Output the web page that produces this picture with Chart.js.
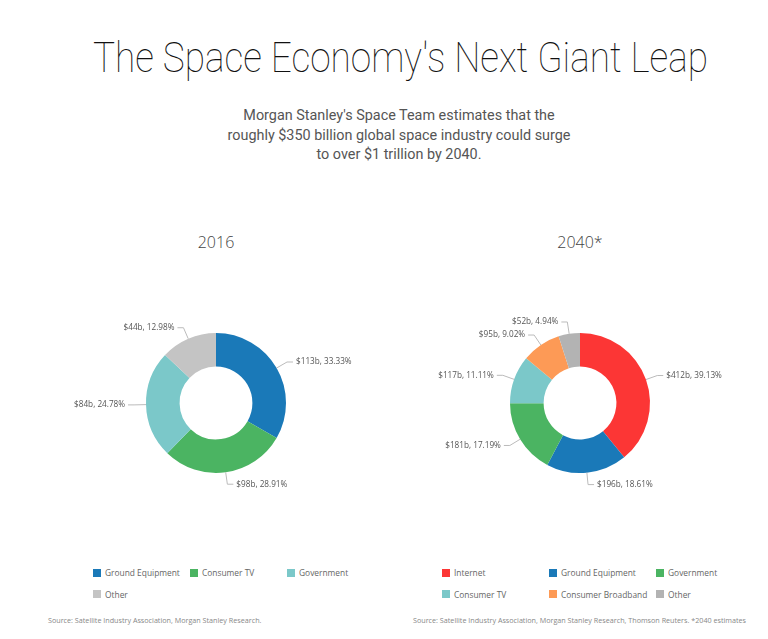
<!DOCTYPE html>
<html lang="en">
<head>
    <meta charset="UTF-8">
    <title>The Space Economy's Next Giant Leap</title>
    <script src="https://cdn.jsdelivr.net/npm/chart.js@4.4.1/dist/chart.umd.min.js"></script>
    <style>
        * { margin: 0; padding: 0; box-sizing: border-box; }

        body {
            width: 768px;
            height: 639px;
            background: #fff;
            position: relative;
            overflow: hidden;
            font-family: 'Open Sans', sans-serif;
        }

        h1 {
            position: absolute;
            left: 0;
            width: 801px;
            top: 32px;
            text-align: center;
            font-family: Roboto, sans-serif;
            font-weight: 100;
            font-size: 43px;
            line-height: 50px;
            color: #111;
            transform: scaleX(0.86);
        }

        .subtitle {
            position: absolute;
            left: 0;
            width: 798px;
            top: 106px;
            text-align: center;
            font-family: Roboto, sans-serif;
            font-size: 14.4px;
            line-height: 19.5px;
            color: #555;
        }

        .chart-title {
            position: absolute;
            width: 200px;
            top: 231px;
            text-align: center;
            font-size: 16px;
            line-height: 22px;
            font-weight: 300;
            color: #444;
        }

        .chart-box {
            position: absolute;
            top: 273px;
            height: 260px;
        }

        .legend {
            position: absolute;
            top: 568.5px;
            display: grid;
            row-gap: 13.5px;
        }

        .legend-item {
            display: flex;
            align-items: center;
            height: 8px;
            font-size: 8.4px;
            color: #666;
            white-space: nowrap;
        }

        .legend-item span {
            width: 8px;
            height: 8px;
            margin-right: 4px;
            flex: none;
        }

        .source {
            position: absolute;
            top: 615px;
            font-size: 7.2px;
            line-height: 10px;
            color: #888;
            white-space: nowrap;
        }
    </style>
</head>
<body>
    <h1>The Space Economy's Next Giant Leap</h1>
    <div class="subtitle">
        Morgan Stanley's Space Team estimates that the<br>
        roughly $350 billion global space industry could surge<br>
        to over $1 trillion by 2040.
    </div>

    <div class="chart-title" style="left: 116px;">2016</div>
    <div class="chart-title" style="left: 480px;">2040*</div>

    <div class="chart-box" style="left: 16px; width: 400px;">
        <canvas id="chart2016"></canvas>
    </div>
    <div class="chart-box" style="left: 380px; width: 380px;">
        <canvas id="chart2040"></canvas>
    </div>

    <div class="legend" id="legend2016" style="left: 93px; grid-template-columns: 97px 97px 97px;"></div>
    <div class="legend" id="legend2040" style="left: 442px; grid-template-columns: 107px 107px 107px;"></div>

    <div class="source" style="left: 48px;">Source: Satellite Industry Association, Morgan Stanley Research.</div>
    <div class="source" style="left: 413px;">Source: Satellite Industry Association, Morgan Stanley Research, Thomson Reuters. *2040 estimates</div>

    <script>
        // 2016 segments ($ billions)
        const labels2016 = ['Ground Equipment', 'Consumer TV', 'Government', 'Other'];
        const values2016 = [113, 98, 84, 44];
        const colors2016 = ['#1a79b8', '#4bb462', '#7bc8c9', '#c4c4c4'];

        // 2040 estimates ($ billions)
        const labels2040 = ['Internet', 'Ground Equipment', 'Government', 'Consumer TV', 'Consumer Broadband', 'Other'];
        const values2040 = [412, 196, 181, 117, 95, 52];
        const colors2040 = ['#fc3635', '#1a79b8', '#4bb462', '#7bc8c9', '#fd9a56', '#b3b3b3'];

        // Outside labels with leader lines ("$113b, 33.33%")
        const leaderLabels = {
            id: 'leaderLabels',
            afterDatasetsDraw(chart) {
                const ctx = chart.ctx;
                const data = chart.data.datasets[0].data;
                const total = data.reduce((a, b) => a + b, 0);
                const meta = chart.getDatasetMeta(0);

                ctx.save();
                ctx.font = '8.2px "Open Sans"';
                ctx.textBaseline = 'middle';
                ctx.lineWidth = 1;
                ctx.strokeStyle = '#bbbbbb';
                ctx.fillStyle = '#555';

                meta.data.forEach((arc, i) => {
                    const p = arc.getProps(['x', 'y', 'startAngle', 'endAngle', 'outerRadius'], true);
                    const mid = (p.startAngle + p.endAngle) / 2;
                    const cos = Math.cos(mid);
                    const sin = Math.sin(mid);
                    const right = cos >= 0;
                    const x1 = p.x + cos * p.outerRadius;
                    const y1 = p.y + sin * p.outerRadius;
                    const x2 = p.x + cos * (p.outerRadius + 12);
                    const y2 = p.y + sin * (p.outerRadius + 12);
                    const x3 = x2 + (right ? 6 : -6);

                    ctx.beginPath();
                    ctx.moveTo(x1, y1);
                    ctx.lineTo(x2, y2);
                    ctx.lineTo(x3, y2);
                    ctx.stroke();

                    const pct = (data[i] / total * 100).toFixed(2);
                    ctx.textAlign = right ? 'left' : 'right';
                    ctx.fillText('$' + data[i] + 'b, ' + pct + '%', x3 + (right ? 3 : -3), y2);
                });
                ctx.restore();
            }
        };

        function makeDonut(id, labels, values, colors, padding) {
            return new Chart(document.getElementById(id), {
                type: 'doughnut',
                data: {
                    labels: labels,
                    datasets: [{
                        data: values,
                        backgroundColor: colors,
                        borderWidth: 0
                    }]
                },
                options: {
                    responsive: true,
                    maintainAspectRatio: false,
                    animation: false,
                    cutout: '52%',
                    layout: { padding: padding },
                    plugins: {
                        legend: { display: false },
                        tooltip: { enabled: false }
                    }
                },
                plugins: [leaderLabels]
            });
        }

        function makeLegend(id, labels, colors) {
            const el = document.getElementById(id);
            labels.forEach((name, i) => {
                const item = document.createElement('div');
                item.className = 'legend-item';
                item.innerHTML = '<span style="background:' + colors[i] + '"></span>' + name;
                el.appendChild(item);
            });
        }

        makeDonut('chart2016', labels2016, values2016, colors2016, { left: 130, right: 130, top: 60, bottom: 60 });
        makeDonut('chart2040', labels2040, values2040, colors2040, { left: 130, right: 110, top: 60, bottom: 60 });

        makeLegend('legend2016', labels2016, colors2016);
        makeLegend('legend2040', labels2040, colors2040);
    </script>
</body>
</html>
